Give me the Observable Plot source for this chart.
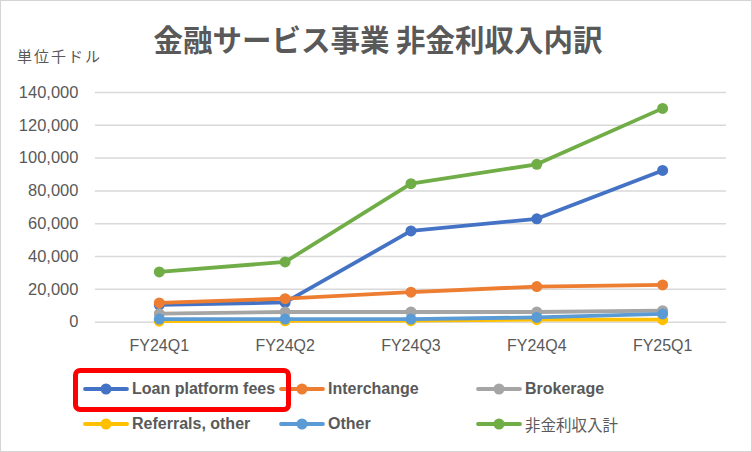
<!DOCTYPE html>
<html>
<head>
<meta charset="utf-8">
<script src="https://cdn.jsdelivr.net/npm/d3@7"></script>
<script src="https://cdn.jsdelivr.net/npm/@observablehq/plot@0.6"></script>
<style>
  html, body { margin: 0; padding: 0; background: #fff; }
  #frame { position: relative; width: 750px; height: 450px; border: 1px solid #d4d4d4; background: #fff; overflow: hidden;
           font-family: "Noto Sans CJK JP", "Noto Sans", sans-serif; color: #595959; }
  #title { position: absolute; left: 0; width: 754px; top: 19px; text-align: center; font-size: 29.5px; font-weight: bold; line-height: 36px; }
  #unit { position: absolute; left: 16px; top: 45px; font-size: 15px; letter-spacing: 2px; line-height: 20px; }
  #chart { position: absolute; left: -1px; top: 69px; }
  .leg { position: absolute; display: flex; align-items: center; font-family: "Liberation Sans", "Noto Sans CJK JP", sans-serif; font-weight: bold; font-size: 16px; color: #595959; white-space: nowrap; }
  .leg svg { margin-right: 3px; }
  .leg.jp { font-family: "Noto Sans CJK JP", sans-serif; font-size: 15.5px; font-weight: normal; }
  #redbox { position: absolute; left: 72px; top: 367px; width: 208px; height: 34px; border: 5px solid #ff0000; border-radius: 7px; }
</style>
</head>
<body>
<div id="frame">
  <div id="title">金融サービス事業 非金利収入内訳</div>
  <div id="unit">単位千ドル</div>
  <div id="chart"></div>
  <div id="legend"></div>
  <div id="redbox"></div>
</div>
<script>
const quarters = ["FY24Q1", "FY24Q2", "FY24Q3", "FY24Q4", "FY25Q1"];
const seriesNames = ["Loan platform fees", "Interchange", "Brokerage", "Referrals, other", "Other", "非金利収入計"];
const loanPlatformFees = [10600, 12000, 55600, 63000, 92500];
const interchange = [11700, 14300, 18300, 21700, 22700];
const brokerage = [5200, 6200, 6200, 6200, 7000];
const referralsOther = [600, 800, 900, 1500, 1500];
const other = [1900, 1900, 1900, 2900, 5000];
const nonInterestTotal = [30600, 36700, 84400, 96200, 130300];
const seriesColors = ["#4472C4", "#ED7D31", "#A5A5A5", "#FFC000", "#5B9BD5", "#70AD47"];
const yTicks = [0, 20000, 40000, 60000, 80000, 100000, 120000, 140000];

const seriesValues = [loanPlatformFees, interchange, brokerage, referralsOther, other, nonInterestTotal];
const data = [];
seriesNames.forEach((name, i) => {
  quarters.forEach((q, j) => data.push({series: name, quarter: q, value: seriesValues[i][j], order: i}));
});

const fmt = d3.format(",");
const chart = Plot.plot({
  width: 752,
  height: 290,
  marginTop: 22,
  marginBottom: 38,
  marginLeft: 95,
  marginRight: 25,
  style: {fontFamily: "Liberation Sans, Noto Sans, sans-serif", fontSize: "16px", color: "#595959", background: "transparent"},
  x: {type: "band", domain: quarters, padding: 0, label: null},
  y: {domain: [0, 140000], label: null},
  color: {domain: seriesNames, range: seriesColors},
  marks: [
    Plot.gridY(yTicks, {stroke: "#d9d9d9", strokeOpacity: 1, strokeWidth: 1.5}),
    Plot.axisX({tickSize: 0, tickPadding: 14, dy: 4, fill: "#595959", fontSize: 16}),
    Plot.axisY({ticks: yTicks, tickFormat: fmt, tickSize: 0, tickPadding: 17, fill: "#595959", fontSize: 16.5}),
    ...seriesNames.map((name) => [
      Plot.line(data.filter(d => d.series === name), {x: "quarter", y: "value", stroke: "series", strokeWidth: 3.8}),
      Plot.dot(data.filter(d => d.series === name), {x: "quarter", y: "value", fill: "series", r: 5.5})
    ]).flat()
  ]
});
document.getElementById("chart").appendChild(chart);

// legend
const legendPos = [
  [82, 377], [278, 377], [475, 377],
  [82, 412], [278, 412], [475, 412]
];
const legend = document.getElementById("legend");
seriesNames.forEach((name, i) => {
  const el = document.createElement("div");
  el.className = "leg" + (i === 5 ? " jp" : "");
  el.style.left = legendPos[i][0] + "px";
  el.style.top = legendPos[i][1] + "px";
  el.style.height = "22px";
  const c = seriesColors[i];
  el.innerHTML = `<svg width="46" height="12"><line x1="2" y1="6" x2="44" y2="6" stroke="${c}" stroke-width="3.8" stroke-linecap="round"/><circle cx="23" cy="6" r="5.5" fill="${c}"/></svg><span>${name}</span>`;
  legend.appendChild(el);
});
</script>
</body>
</html>
